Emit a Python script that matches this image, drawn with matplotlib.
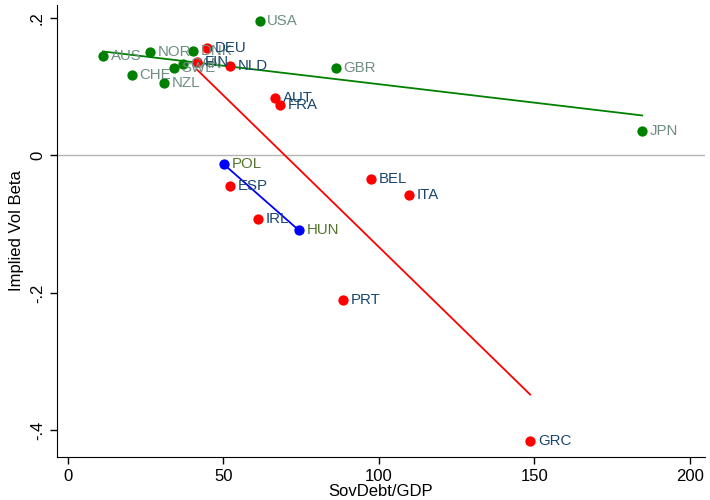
import numpy as np
import matplotlib
matplotlib.use("Agg")
import matplotlib.pyplot as plt

plt.rcParams['font.family'] = ['Liberation Sans', 'DejaVu Sans']

# euro area (red)
red_names = ["DEU", "FIN", "NLD", "AUT", "FRA", "BEL", "ITA", "ESP", "IRL", "PRT", "GRC"]
red_x = [44.7, 41.5, 52.3, 66.6, 68.2, 97.4, 109.6, 52.1, 61.1, 88.4, 148.6]
red_y = [0.156, 0.136, 0.130, 0.083, 0.074, -0.034, -0.058, -0.044, -0.093, -0.210, -0.416]

# eastern europe (blue)
blue_names = ["POL", "HUN"]
blue_x = [50.2, 74.3]
blue_y = [-0.013, -0.109]

# others (green)
green_names = ["AUS", "NOR", "DNK", "USA", "CHE", "NZL", "SWE", "CAN", "GBR", "JPN"]
green_x = [11.3, 26.4, 40.2, 61.7, 20.6, 30.9, 34.1, 37.0, 86.2, 184.6]
green_y = [0.145, 0.150, 0.152, 0.196, 0.117, 0.105, 0.128, 0.133, 0.127, 0.035]

groups = [
    (green_names, green_x, green_y, "#008000", "#6e8e84"),
    (red_names, red_x, red_y, "#ff0000", "#1a476f"),
    (blue_names, blue_x, blue_y, "#0000ff", "#55752f"),
]

fig = plt.figure(figsize=(7.1, 5), dpi=100)
ax = fig.add_axes([0.080, 0.086, 0.913, 0.904])

ax.axhline(0, color="#b4b4b4", lw=1, zorder=0)

for names, xs, ys, col, lcol in groups:
    xs = np.array(xs)
    ys = np.array(ys)
    ax.scatter(xs, ys, s=55, color=col, zorder=3, linewidths=0)
    # linear fit over range of the group
    b, a = np.polyfit(xs, ys, 1)
    xx = np.array([xs.min(), xs.max()])
    ax.plot(xx, a + b * xx, color=col, lw=1.3, zorder=2)
    for n, x, y in zip(names, xs, ys):
        ax.annotate(n, (x, y), xytext=(5.5, 0), textcoords="offset points",
                    ha="left", va="center", fontsize=10.8, color=lcol, zorder=4)

ax.set_xlim(-3.5, 204.8)
ax.set_ylim(-0.439, 0.219)
ax.set_xticks([0, 50, 100, 150, 200])
ax.set_yticks([0.2, 0, -0.2, -0.4])
ax.set_yticklabels([".2", "0", "-.2", "-.4"], rotation=90, va="center")
ax.tick_params(labelsize=12, length=5, width=1)
ax.spines["top"].set_visible(False)
ax.spines["right"].set_visible(False)
ax.set_xlabel("SovDebt/GDP", fontsize=12, labelpad=0)
ax.set_ylabel("Implied Vol Beta", fontsize=12, labelpad=4)

fig.savefig("out.png", dpi=100)
